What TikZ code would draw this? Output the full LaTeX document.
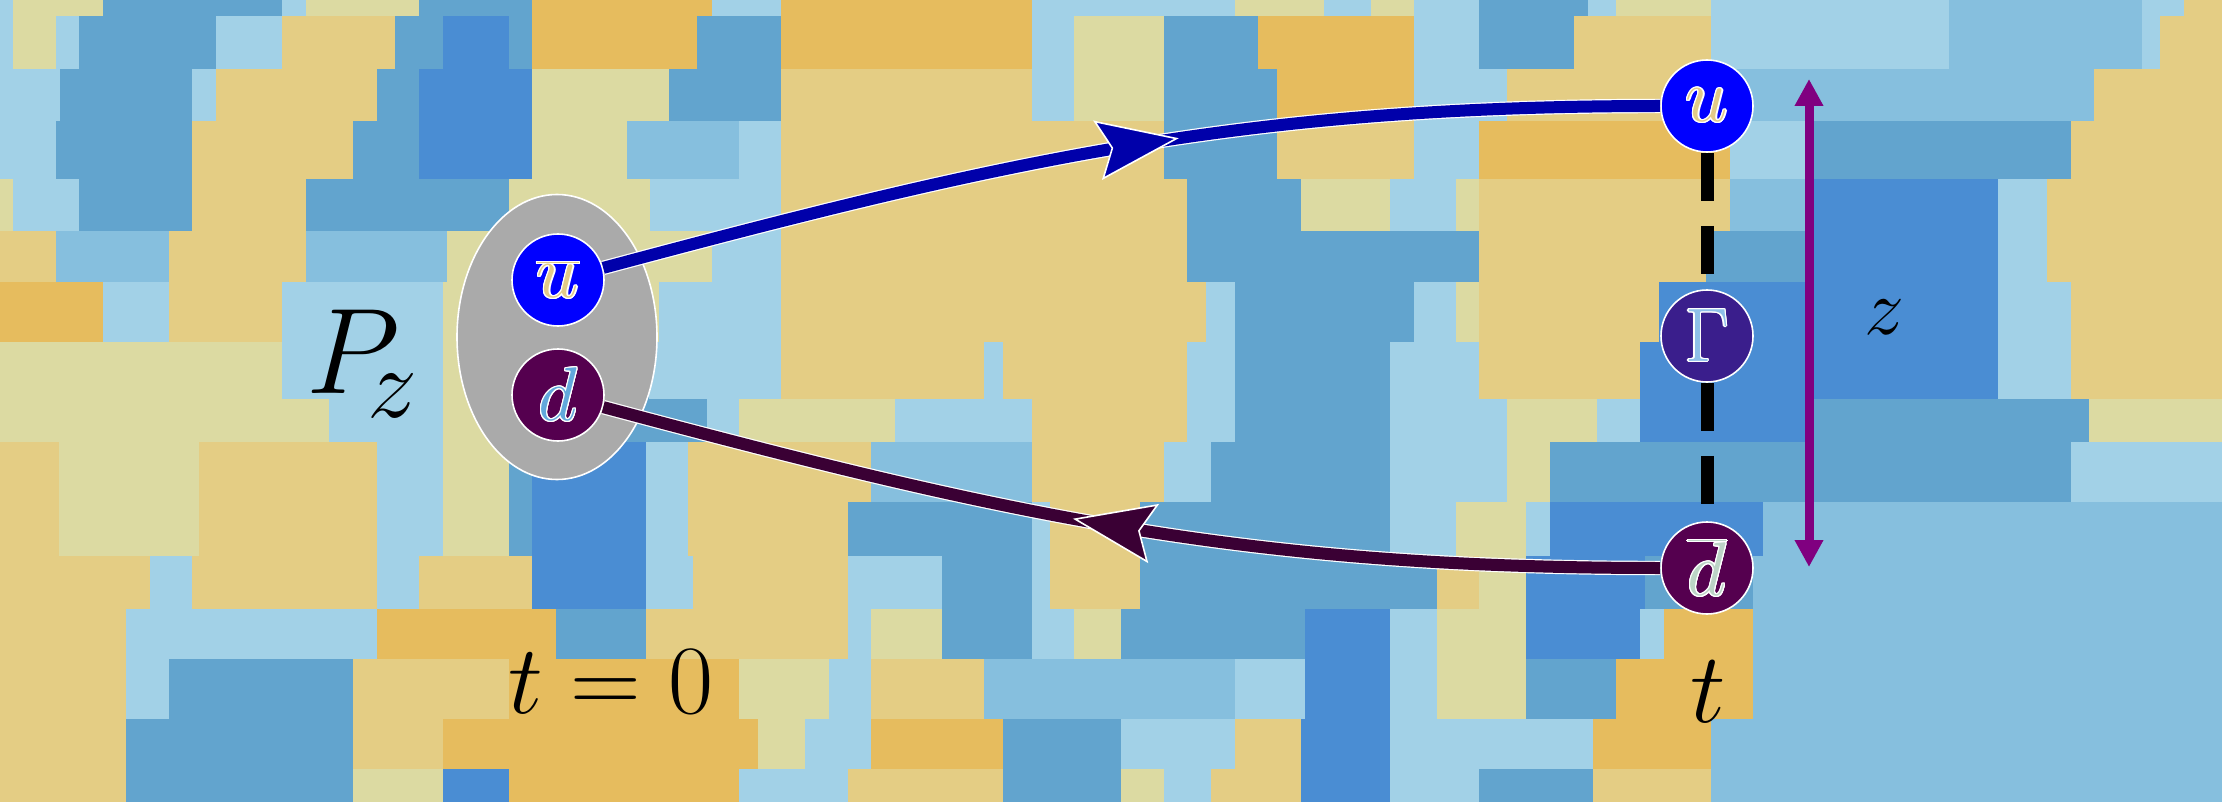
\RequirePackage{fix-cm}
\documentclass[tikz,border=0pt]{standalone}
\usepackage{contour}
\usetikzlibrary{arrows.meta,decorations.markings,shapes.geometric}
\contourlength{0.6pt}
\definecolor{cD}{HTML}{4A8DD3}
\definecolor{cM}{HTML}{62A4CE}
\definecolor{cB}{HTML}{86BFDE}
\definecolor{cL}{HTML}{A2D1E7}
\definecolor{cP}{HTML}{DCDAA2}
\definecolor{cY}{HTML}{E4CD84}
\definecolor{cO}{HTML}{E6BC5E}
\definecolor{ucol}{HTML}{0000AA}
\definecolor{dcol}{HTML}{3A0034}
\definecolor{qblue}{HTML}{0000FF}
\definecolor{qpurp}{HTML}{55004F}
\definecolor{qgam}{HTML}{3A1E8C}
\definecolor{hadgray}{HTML}{AAAAAA}
\definecolor{zpurp}{HTML}{800080}
\definecolor{tgold}{HTML}{E2CA88}
\definecolor{tblue}{HTML}{62A8DC}
\definecolor{tgam}{HTML}{8EC0E8}
\definecolor{tmix}{HTML}{BCD4C6}
\newcommand\bgrow[3]{\foreach \a/\b/\c in {#3}{\fill[\c] (\a-0.6,#1-0.6) rectangle (\b+0.6,#2+0.6);}}
\tikzset{
  quark/.style={circle, minimum size=46pt, inner sep=0pt, draw=white, line width=0.8pt,
    font=\fontsize{38}{38}\selectfont},
  qline/.style={line width=6pt, preaction={draw=white, line width=7.2pt}},
  gline/.style={draw=black, line width=6.5pt, dash pattern=on 24pt off 12.5pt},
  lbl/.style={inner sep=0pt, text=black},
}
\begin{document}
\begin{tikzpicture}[x=0.5pt,y=-0.5pt]
\useasboundingbox (0,0) rectangle (2222,802);
\begin{scope}
\clip (0,0) rectangle (2222,802);
\bgrow{0}{17}{0/14/cL, 14/104/cP, 104/283/cM, 283/307/cL, 307/420/cP, 420/533/cM, 533/713/cO, 713/782/cL, 782/1033/cO, 1033/1236/cL, 1236/1325/cP, 1325/1372/cL, 1372/1415/cP, 1415/1480/cL, 1480/1589/cM, 1589/1617/cL, 1617/1712/cP, 1712/1950/cL, 1950/2143/cB, 2143/2185/cL, 2185/2222/cY}
\bgrow{17}{70}{0/14/cL, 14/57/cP, 57/80/cL, 80/217/cM, 217/283/cL, 283/396/cY, 396/444/cM, 444/510/cD, 510/533/cM, 533/698/cO, 698/782/cM, 782/1033/cO, 1033/1075/cL, 1075/1165/cP, 1165/1259/cM, 1259/1415/cO, 1415/1480/cL, 1480/1575/cM, 1575/1712/cY, 1712/1950/cL, 1950/2143/cB, 2143/2161/cL, 2161/2222/cY}
\bgrow{70}{122}{0/61/cL, 61/193/cM, 193/217/cL, 217/378/cY, 378/420/cM, 420/533/cD, 533/670/cP, 670/782/cM, 782/1033/cY, 1033/1075/cL, 1075/1165/cP, 1165/1278/cM, 1278/1415/cO, 1415/1508/cL, 1508/1712/cY, 1712/2095/cB, 2095/2222/cY}
\bgrow{122}{180}{0/57/cL, 57/193/cM, 193/354/cY, 354/420/cM, 420/533/cD, 533/628/cP, 628/740/cB, 740/782/cL, 782/1165/cY, 1165/1278/cM, 1278/1415/cY, 1415/1480/cL, 1480/1731/cO, 1731/1811/cL, 1811/2072/cM, 2072/2222/cY}
\bgrow{180}{232}{0/14/cP, 14/80/cL, 80/193/cM, 193/307/cY, 307/510/cM, 510/651/cP, 651/782/cL, 782/1188/cY, 1188/1302/cM, 1302/1391/cP, 1391/1457/cL, 1457/1480/cP, 1480/1731/cY, 1731/1811/cB, 1811/1999/cD, 1999/2048/cL, 2048/2222/cY}
\bgrow{232}{283}{0/57/cY, 57/170/cB, 170/307/cY, 307/448/cB, 448/713/cP, 713/782/cL, 782/1188/cY, 1188/1480/cM, 1480/1707/cY, 1707/1811/cM, 1811/1999/cD, 1999/2048/cL, 2048/2222/cY}
\bgrow{283}{343}{0/104/cO, 104/170/cL, 170/283/cY, 283/444/cL, 444/660/cP, 660/782/cL, 782/1207/cY, 1207/1236/cL, 1236/1415/cM, 1415/1457/cL, 1457/1480/cP, 1480/1660/cY, 1660/1999/cD, 1999/2072/cL, 2072/2222/cY}
\bgrow{343}{400}{0/283/cP, 283/444/cL, 444/500/cP, 500/650/cM, 650/782/cL, 782/985/cY, 985/1004/cL, 1004/1188/cY, 1188/1236/cL, 1236/1391/cM, 1391/1480/cL, 1480/1641/cY, 1641/1999/cD, 1999/2072/cL, 2072/2222/cY}
\bgrow{400}{443}{0/330/cP, 330/444/cL, 444/510/cP, 510/708/cM, 708/740/cL, 740/896/cP, 896/1033/cL, 1033/1188/cY, 1188/1236/cL, 1236/1391/cM, 1391/1508/cL, 1508/1598/cP, 1598/1641/cL, 1641/1811/cD, 1811/2090/cM, 2090/2222/cP}
\bgrow{443}{503}{0/60/cY, 60/200/cP, 200/378/cY, 378/444/cL, 444/510/cP, 510/533/cM, 533/647/cD, 647/689/cL, 689/872/cY, 872/1033/cB, 1033/1165/cY, 1165/1212/cL, 1212/1391/cM, 1391/1508/cL, 1508/1551/cP, 1551/2072/cM, 2072/2222/cL}
\bgrow{503}{557}{0/60/cY, 60/200/cP, 200/378/cY, 378/444/cL, 444/510/cP, 510/533/cM, 533/647/cD, 647/689/cL, 689/849/cY, 849/1033/cM, 1033/1051/cL, 1051/1141/cY, 1141/1391/cM, 1391/1457/cL, 1457/1527/cP, 1527/1551/cL, 1551/1764/cD, 1764/2222/cB}
\bgrow{557}{610}{0/151/cY, 151/193/cL, 193/378/cY, 378/420/cL, 420/533/cY, 533/647/cD, 647/694/cL, 694/849/cY, 849/943/cL, 943/1033/cM, 1033/1051/cL, 1051/1141/cY, 1141/1438/cM, 1438/1480/cY, 1480/1527/cP, 1527/1646/cD, 1646/1754/cM, 1754/2222/cB}
\bgrow{610}{660}{0/127/cY, 127/378/cL, 378/557/cO, 557/647/cM, 647/849/cY, 849/872/cL, 872/943/cP, 943/1033/cM, 1033/1075/cL, 1075/1122/cP, 1122/1306/cM, 1306/1391/cD, 1391/1438/cL, 1438/1527/cP, 1527/1641/cD, 1641/1665/cL, 1665/1754/cO, 1754/2222/cB}
\bgrow{660}{720}{0/127/cY, 127/170/cL, 170/354/cM, 354/510/cY, 510/740/cO, 740/830/cP, 830/872/cL, 872/985/cY, 985/1236/cB, 1236/1306/cL, 1306/1391/cD, 1391/1438/cL, 1438/1527/cP, 1527/1617/cM, 1617/1754/cO, 1754/2222/cB}
\bgrow{720}{770}{0/127/cY, 127/354/cM, 354/444/cY, 444/759/cO, 759/806/cP, 806/872/cL, 872/1004/cO, 1004/1122/cM, 1122/1236/cL, 1236/1302/cY, 1302/1391/cD, 1391/1594/cL, 1594/1712/cO, 1712/2222/cB}
\bgrow{770}{802}{0/127/cY, 127/354/cM, 354/444/cP, 444/510/cD, 510/740/cO, 740/849/cL, 849/1004/cY, 1004/1122/cM, 1122/1165/cP, 1165/1212/cL, 1212/1302/cY, 1302/1391/cD, 1391/1480/cL, 1480/1594/cM, 1594/1712/cY, 1712/2222/cB}
\end{scope}

% hadron
\node[ellipse, fill=hadgray, draw=white, line width=0.8pt, minimum width=100pt, minimum height=142.5pt, inner sep=0pt] (had) at (557,337) {};

% quarks
\node[quark, fill=qblue, text=tgold] (ub) at (558,280) {\contour{white}{$\overline{u}$}};
\node[quark, fill=qpurp, text=tblue] (d) at (558,395) {\contour{white}{$d$}};
\node[quark, fill=qblue, text=tgold] (u) at (1707,106) {\contour{white}{$u$}};
\node[quark, fill=qgam, text=tgam] (G) at (1707,336) {\contour{white}{$\Gamma$}};
\node[quark, fill=qpurp, text=tmix] (db) at (1707,568) {\contour{white}{$\overline{d}$}};

% propagators
\draw[qline, draw=ucol,
  decoration={markings, mark=at position 0.55 with {\arrow{Stealth[length=41pt,width=30pt,inset=7pt,line width=0.8pt,color=white,fill=ucol]}}},
  postaction={decorate}] (ub) to[out=15,in=180] (u);
\draw[qline, draw=dcol,
  decoration={markings, mark=at position 0.55 with {\arrow{Stealth[length=41pt,width=30pt,inset=7pt,line width=0.8pt,color=white,fill=dcol]}}},
  postaction={decorate}] (db) to[out=180,in=-15] (d);

% Gamma insertion
\draw[gline] (u) -- (G);
\draw[gline] (G) -- (db);

% separation z
\coordinate (zt) at (1809,79);
\coordinate (zb) at (1809,567);
\draw[draw=zpurp, line width=4.5pt, {Triangle[length=13.5pt,width=13.5pt]}-{Triangle[length=13.5pt,width=13.5pt]}] (zt) -- (zb);

% labels
\node[lbl, anchor=base west, font=\fontsize{61}{61}\selectfont] (Pz) at (306,393) {$P$\kern-16pt\raisebox{-12.5pt}{\fontsize{50}{50}\selectfont$z$}};
\node[lbl, anchor=base, font=\fontsize{49}{49}\selectfont] (t0) at (611,713) {$t = 0$};
\node[lbl, anchor=base, font=\fontsize{50}{50}\selectfont] (tt) at (1708,722) {$t$};
\node[lbl, anchor=base, font=\fontsize{40}{40}\selectfont] (zl) at (1884,335) {$z$};
\end{tikzpicture}
\end{document}
